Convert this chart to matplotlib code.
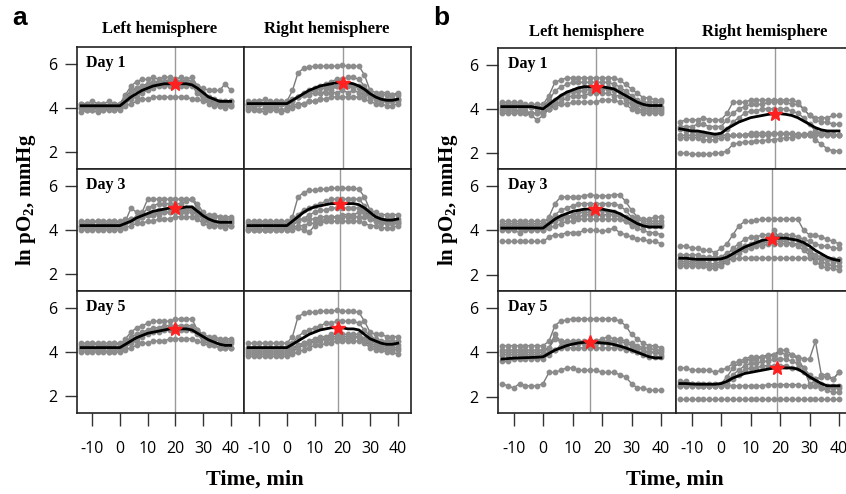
import numpy as np
import matplotlib
matplotlib.use("Agg")
import matplotlib.pyplot as plt

plt.rcParams["axes.unicode_minus"] = False
plt.rcParams["mathtext.fontset"] = "custom"
plt.rcParams["mathtext.rm"] = "Liberation Serif"
plt.rcParams["mathtext.bf"] = "Liberation Serif:bold"

# time points (min), one sample every 2 min
times = [-14, -12, -10, -8, -6, -4, -2, 0, 2, 4, 6, 8, 10, 12,
         14, 16, 18, 20, 22, 24, 26, 28, 30, 32, 34, 36, 38, 40]

# ---------------- panel a ----------------
a_left_day1 = [
    [4.2, 4.2, 4.3, 4.2, 4.2, 4.3, 4.2, 4.2, 4.6, 5.0, 5.2, 5.3, 5.3, 5.4, 5.3, 5.4, 5.4, 5.3, 5.4, 5.3, 5.4, 5.0, 4.7, 4.5, 4.4, 4.3, 4.3, 4.3],
    [4.1, 4.1, 4.0, 4.1, 4.1, 4.1, 4.1, 4.1, 4.4, 4.6, 4.8, 4.9, 5.0, 5.1, 5.2, 5.2, 5.2, 5.3, 5.2, 5.2, 5.1, 4.8, 4.5, 4.3, 4.2, 4.2, 4.2, 4.2],
    [4.0, 3.9, 3.9, 4.0, 3.9, 4.0, 3.9, 4.0, 4.2, 4.4, 4.5, 4.7, 4.8, 4.9, 5.0, 5.0, 5.0, 5.1, 5.0, 5.0, 5.0, 4.7, 4.4, 4.2, 4.1, 4.1, 4.0, 4.1],
    [4.0, 4.0, 4.1, 4.0, 4.0, 4.0, 4.1, 4.0, 4.1, 4.2, 4.3, 4.4, 4.4, 4.5, 4.5, 4.5, 4.5, 4.5, 4.5, 4.5, 4.4, 4.4, 4.3, 4.3, 4.3, 4.2, 4.2, 4.3],
    [3.8, 3.9, 3.9, 3.8, 3.9, 3.9, 3.9, 3.9, 4.3, 4.7, 4.9, 5.0, 5.1, 5.2, 5.2, 5.2, 5.3, 5.2, 5.2, 5.3, 5.2, 5.0, 4.9, 4.8, 4.8, 4.8, 5.1, 4.8],
    [4.2, 4.2, 4.1, 4.2, 4.2, 4.1, 4.2, 4.2, 4.5, 4.8, 4.9, 5.0, 5.1, 5.1, 5.1, 5.1, 5.1, 5.2, 5.1, 5.2, 5.1, 4.9, 4.6, 4.4, 4.2, 4.1, 4.1, 4.1],
]
a_left_day1_mean = [4.1, 4.1, 4.1, 4.1, 4.1, 4.1, 4.1, 4.1, 4.3, 4.5, 4.65, 4.8, 4.9, 5.0, 5.05, 5.1, 5.1, 5.1, 5.1, 5.1, 5.05, 4.9, 4.7, 4.5, 4.4, 4.3, 4.3, 4.3]

a_right_day1 = [
    [4.2, 4.2, 4.3, 4.2, 4.2, 4.3, 4.2, 4.3, 4.8, 5.6, 5.8, 5.85, 5.9, 5.9, 5.9, 5.9, 5.9, 5.95, 5.9, 5.9, 5.9, 5.5, 4.8, 4.7, 4.7, 4.7, 4.6, 4.7],
    [4.1, 4.1, 4.2, 4.1, 4.1, 4.1, 4.2, 4.1, 4.3, 4.5, 4.7, 4.8, 4.9, 5.0, 5.1, 5.2, 5.3, 5.3, 5.4, 5.4, 5.3, 5.0, 4.7, 4.5, 4.4, 4.4, 4.4, 4.4],
    [4.0, 4.0, 3.9, 4.0, 4.0, 4.0, 3.9, 4.0, 4.1, 4.2, 4.2, 4.3, 4.3, 4.4, 4.9, 4.8, 5.0, 4.9, 5.0, 5.0, 4.9, 4.7, 4.5, 4.4, 4.3, 4.3, 4.3, 4.4],
    [4.3, 4.3, 4.3, 4.4, 4.3, 4.3, 4.3, 4.3, 4.4, 4.5, 4.6, 4.6, 4.7, 4.7, 4.7, 4.7, 4.7, 4.8, 4.7, 4.8, 4.7, 4.6, 4.6, 4.6, 4.6, 4.6, 4.6, 4.6],
    [3.9, 3.9, 3.9, 3.8, 3.9, 3.9, 3.8, 3.9, 4.0, 4.1, 4.2, 4.3, 4.3, 4.4, 4.4, 4.5, 4.5, 4.5, 4.5, 4.5, 4.5, 4.4, 4.3, 4.2, 4.2, 4.1, 4.1, 4.2],
    [4.2, 4.1, 4.2, 4.2, 4.1, 4.2, 4.2, 4.1, 4.3, 4.5, 4.6, 4.7, 4.8, 4.9, 4.9, 5.0, 5.0, 5.1, 5.1, 5.0, 5.0, 4.8, 4.5, 4.4, 4.3, 4.3, 4.3, 4.3],
]
a_right_day1_mean = [4.2, 4.2, 4.2, 4.2, 4.2, 4.2, 4.2, 4.2, 4.35, 4.5, 4.65, 4.8, 4.9, 5.0, 5.05, 5.1, 5.15, 5.15, 5.15, 5.1, 5.0, 4.85, 4.65, 4.5, 4.4, 4.35, 4.35, 4.4]

a_left_day3 = [
    [4.3, 4.3, 4.3, 4.4, 4.3, 4.3, 4.4, 4.3, 4.4, 4.5, 4.6, 4.8, 5.4, 5.4, 5.4, 5.4, 5.4, 5.4, 5.4, 5.4, 5.4, 5.2, 4.8, 4.6, 4.6, 4.6, 4.5, 4.5],
    [4.2, 4.2, 4.2, 4.2, 4.2, 4.2, 4.3, 4.2, 4.4, 5.0, 4.8, 4.7, 5.0, 5.1, 5.2, 5.2, 5.2, 5.2, 5.2, 5.3, 5.4, 5.0, 4.7, 4.5, 4.4, 4.4, 4.3, 4.4],
    [4.1, 4.1, 4.1, 4.1, 4.1, 4.1, 4.1, 4.1, 4.3, 4.4, 4.5, 4.6, 4.7, 4.8, 4.9, 4.9, 5.0, 5.0, 5.0, 5.0, 5.0, 4.8, 4.5, 4.4, 4.3, 4.3, 4.3, 4.3],
    [4.0, 4.0, 4.0, 4.0, 4.0, 4.0, 4.0, 4.0, 4.1, 4.2, 4.3, 4.3, 4.4, 4.4, 4.5, 4.5, 4.5, 4.6, 4.6, 4.6, 4.6, 4.5, 4.3, 4.2, 4.2, 4.2, 4.2, 4.2],
    [4.4, 4.4, 4.4, 4.4, 4.4, 4.4, 4.4, 4.4, 4.5, 4.5, 4.6, 4.6, 4.7, 4.7, 4.7, 4.8, 4.8, 4.8, 4.8, 4.8, 4.8, 4.8, 4.7, 4.7, 4.7, 4.6, 4.6, 4.6],
    [4.2, 4.2, 4.1, 4.2, 4.2, 4.2, 4.2, 4.2, 4.3, 4.4, 4.5, 4.6, 4.7, 4.7, 4.8, 4.8, 4.8, 4.9, 4.9, 4.9, 4.9, 4.7, 4.5, 4.3, 4.2, 4.2, 4.1, 4.2],
]
a_left_day3_mean = [4.2, 4.2, 4.2, 4.2, 4.2, 4.2, 4.2, 4.2, 4.3, 4.4, 4.55, 4.65, 4.75, 4.85, 4.9, 4.95, 5.0, 5.0, 5.0, 5.05, 5.05, 4.85, 4.65, 4.5, 4.4, 4.35, 4.35, 4.35]

a_right_day3 = [
    [4.3, 4.3, 4.3, 4.3, 4.3, 4.3, 4.3, 4.3, 4.6, 5.5, 5.7, 5.8, 5.8, 5.85, 5.85, 5.9, 5.9, 5.9, 5.9, 5.9, 5.85, 5.5, 4.9, 4.8, 4.7, 4.7, 4.7, 4.7],
    [4.2, 4.2, 4.2, 4.2, 4.2, 4.2, 4.2, 4.2, 4.4, 4.7, 4.9, 5.0, 5.1, 5.2, 5.3, 5.4, 5.4, 5.4, 5.4, 5.4, 5.4, 5.1, 4.8, 4.6, 4.5, 4.5, 4.5, 4.5],
    [4.1, 4.1, 4.1, 4.0, 4.1, 4.1, 4.1, 4.1, 4.2, 4.4, 4.5, 4.7, 4.8, 4.9, 4.9, 5.0, 5.0, 5.0, 5.0, 5.0, 5.0, 4.8, 4.5, 4.4, 4.3, 4.3, 4.3, 4.3],
    [4.0, 4.0, 4.0, 4.0, 4.0, 4.0, 4.0, 4.0, 4.0, 4.1, 4.0, 3.9, 4.2, 4.4, 4.5, 4.6, 4.6, 4.7, 4.7, 4.7, 4.8, 4.9, 4.6, 4.4, 4.3, 4.3, 4.3, 4.3],
    [4.4, 4.4, 4.4, 4.4, 4.4, 4.4, 4.4, 4.4, 4.4, 4.5, 4.5, 4.5, 4.5, 4.6, 4.6, 4.6, 4.6, 4.6, 4.6, 4.6, 4.6, 4.6, 4.5, 4.5, 4.4, 4.4, 4.4, 4.4],
    [4.0, 4.0, 4.0, 4.0, 4.0, 4.0, 4.1, 4.0, 4.1, 4.2, 4.2, 4.3, 4.3, 4.3, 4.4, 4.4, 4.4, 4.4, 4.4, 4.4, 4.4, 4.3, 4.2, 4.2, 4.1, 4.1, 4.1, 4.2],
]
a_right_day3_mean = [4.2, 4.2, 4.2, 4.2, 4.2, 4.2, 4.2, 4.2, 4.4, 4.6, 4.8, 4.95, 5.05, 5.1, 5.15, 5.2, 5.2, 5.2, 5.2, 5.2, 5.15, 5.0, 4.8, 4.6, 4.5, 4.45, 4.45, 4.5]

a_left_day5 = [
    [4.3, 4.3, 4.4, 4.3, 4.3, 4.3, 4.4, 4.3, 4.6, 4.9, 5.1, 5.2, 5.3, 5.4, 5.4, 5.4, 5.4, 5.5, 5.5, 5.5, 5.5, 5.0, 4.7, 4.6, 4.6, 4.5, 4.5, 4.5],
    [4.2, 4.2, 4.2, 4.2, 4.2, 4.2, 4.2, 4.2, 4.4, 4.7, 4.8, 4.9, 5.0, 5.1, 5.1, 5.2, 5.2, 5.2, 5.2, 5.2, 5.2, 4.9, 4.6, 4.5, 4.4, 4.4, 4.4, 4.4],
    [4.1, 4.1, 4.1, 4.1, 4.1, 4.0, 4.1, 4.1, 4.2, 4.4, 4.5, 4.7, 4.8, 4.9, 4.9, 5.0, 5.0, 5.0, 5.0, 5.0, 5.0, 4.8, 4.5, 4.4, 4.3, 4.2, 4.2, 4.2],
    [4.0, 4.0, 4.0, 4.0, 4.0, 4.0, 4.0, 4.0, 4.1, 4.2, 4.3, 4.4, 4.4, 4.5, 4.5, 4.5, 4.6, 4.6, 4.6, 4.6, 4.6, 4.5, 4.4, 4.3, 4.3, 4.2, 4.2, 4.2],
    [4.4, 4.4, 4.4, 4.4, 4.4, 4.4, 4.4, 4.4, 4.5, 4.6, 4.7, 4.8, 4.9, 5.0, 5.0, 5.1, 5.1, 5.1, 5.1, 5.1, 5.1, 5.0, 4.8, 4.7, 4.7, 4.6, 4.6, 4.6],
]
a_left_day5_mean = [4.2, 4.2, 4.2, 4.2, 4.2, 4.2, 4.2, 4.2, 4.35, 4.5, 4.65, 4.75, 4.85, 4.9, 4.95, 5.0, 5.05, 5.05, 5.05, 5.05, 5.0, 4.85, 4.7, 4.55, 4.45, 4.35, 4.3, 4.3]

a_right_day5 = [
    [4.4, 4.4, 4.4, 4.4, 4.4, 4.4, 4.4, 4.4, 4.7, 5.6, 5.75, 5.8, 5.8, 5.85, 5.85, 5.85, 5.9, 5.85, 5.85, 5.85, 5.8, 5.4, 4.9, 4.8, 4.8, 4.7, 4.7, 4.7],
    [4.2, 4.2, 4.2, 4.2, 4.2, 4.2, 4.2, 4.2, 4.4, 4.7, 4.9, 5.0, 5.1, 5.2, 5.3, 5.3, 5.4, 5.4, 5.4, 5.4, 5.3, 5.0, 4.7, 4.6, 4.5, 4.5, 4.5, 4.5],
    [4.0, 4.0, 4.0, 4.0, 4.0, 4.0, 4.0, 4.0, 4.1, 4.3, 4.4, 4.5, 4.6, 4.7, 4.7, 4.8, 4.8, 4.8, 4.8, 4.8, 4.8, 4.6, 4.4, 4.3, 4.3, 4.2, 4.2, 4.2],
    [3.8, 3.8, 3.8, 3.8, 3.8, 3.8, 3.8, 3.8, 3.9, 4.0, 4.1, 4.2, 4.3, 4.3, 4.4, 4.4, 4.5, 4.5, 4.5, 4.5, 4.5, 4.4, 4.2, 4.1, 4.1, 4.0, 4.0, 3.9],
    [4.1, 4.1, 4.1, 4.1, 4.1, 4.1, 4.1, 4.1, 4.2, 4.3, 4.4, 4.4, 4.5, 4.5, 4.6, 4.6, 4.6, 4.6, 4.6, 4.7, 4.7, 4.6, 4.5, 4.4, 4.4, 4.3, 4.3, 4.3],
    [3.9, 3.9, 3.9, 3.9, 3.9, 3.9, 3.9, 3.9, 4.0, 4.2, 4.3, 4.4, 4.5, 4.6, 4.6, 4.7, 4.7, 4.7, 4.7, 4.7, 4.7, 4.5, 4.3, 4.2, 4.2, 4.1, 4.1, 4.1],
]
a_right_day5_mean = [4.2, 4.2, 4.2, 4.2, 4.2, 4.2, 4.2, 4.2, 4.35, 4.5, 4.65, 4.8, 4.9, 5.0, 5.05, 5.1, 5.1, 5.1, 5.05, 5.05, 5.0, 4.8, 4.6, 4.5, 4.4, 4.35, 4.35, 4.4]

# ---------------- panel b ----------------
b_left_day1 = [
    [4.3, 4.3, 4.3, 4.3, 4.2, 4.2, 4.2, 4.2, 4.6, 5.2, 5.3, 5.4, 5.4, 5.4, 5.4, 5.4, 5.4, 5.4, 5.4, 5.4, 5.3, 5.1, 4.9, 4.7, 4.5, 4.5, 4.4, 4.4],
    [4.2, 4.2, 4.2, 4.2, 4.1, 4.1, 4.1, 4.1, 4.4, 4.8, 5.0, 5.1, 5.2, 5.2, 5.2, 5.2, 5.2, 5.2, 5.2, 5.1, 5.0, 4.8, 4.6, 4.4, 4.3, 4.3, 4.3, 4.3],
    [4.0, 4.0, 4.0, 3.9, 3.8, 3.7, 3.5, 3.7, 4.0, 4.3, 4.5, 4.7, 4.8, 4.9, 5.0, 5.0, 5.0, 5.0, 5.0, 4.9, 4.8, 4.6, 4.4, 4.2, 4.0, 4.0, 4.0, 4.0],
    [3.8, 3.8, 3.8, 3.8, 3.8, 3.8, 3.8, 3.9, 4.0, 4.1, 4.2, 4.2, 4.3, 4.3, 4.3, 4.3, 4.3, 4.4, 4.4, 4.4, 4.3, 4.2, 4.0, 3.9, 3.8, 3.8, 3.8, 3.8],
    [4.1, 4.1, 4.1, 4.1, 4.1, 4.1, 4.0, 4.0, 4.2, 4.4, 4.6, 4.7, 4.8, 4.8, 4.8, 4.9, 4.9, 4.9, 4.9, 4.8, 4.8, 4.6, 4.4, 4.2, 4.1, 4.1, 4.1, 4.1],
    [3.9, 3.9, 3.9, 3.9, 3.9, 3.8, 3.8, 3.8, 4.0, 4.2, 4.3, 4.5, 4.6, 4.6, 4.6, 4.7, 4.7, 4.7, 4.7, 4.6, 4.6, 4.4, 4.2, 4.0, 3.9, 3.9, 3.9, 3.9],
]
b_left_day1_mean = [4.1, 4.1, 4.1, 4.1, 4.1, 4.1, 4.05, 4.0, 4.2, 4.4, 4.6, 4.75, 4.85, 4.95, 5.0, 5.0, 5.0, 5.0, 4.95, 4.9, 4.75, 4.6, 4.45, 4.3, 4.2, 4.15, 4.15, 4.15]

b_right_day1 = [
    [3.4, 3.5, 3.5, 3.5, 3.6, 3.5, 3.5, 3.5, 3.8, 4.3, 4.3, 4.3, 4.4, 4.4, 4.4, 4.4, 4.4, 4.4, 4.4, 4.4, 4.3, 4.0, 3.7, 3.6, 3.6, 3.6, 3.7, 3.7],
    [3.2, 3.2, 3.2, 3.3, 3.3, 3.2, 3.2, 3.2, 3.5, 3.8, 4.0, 4.1, 4.2, 4.2, 4.2, 4.3, 4.3, 4.3, 4.3, 4.2, 4.2, 4.0, 3.7, 3.5, 3.4, 3.4, 3.3, 3.3],
    [3.1, 3.0, 3.0, 2.9, 2.9, 2.8, 2.8, 2.8, 3.1, 3.4, 3.6, 3.8, 3.9, 3.9, 4.0, 4.0, 4.0, 4.0, 4.0, 3.9, 3.8, 3.6, 3.3, 3.0, 2.9, 2.8, 2.8, 2.8],
    [2.8, 2.8, 2.8, 2.8, 2.8, 2.75, 2.75, 2.8, 2.8, 2.8, 2.8, 2.8, 2.8, 2.8, 2.8, 2.8, 2.85, 2.85, 2.85, 2.85, 2.85, 2.85, 2.8, 2.8, 2.8, 2.8, 2.8, 2.8],
    [2.7, 2.7, 2.7, 2.7, 2.6, 2.6, 2.6, 2.7, 2.7, 2.8, 2.8, 2.8, 2.9, 2.9, 2.9, 2.9, 2.9, 2.9, 2.9, 2.9, 2.8, 2.8, 2.8, 2.6, 2.4, 2.2, 2.1, 2.1],
    [2.0, 2.0, 1.95, 1.95, 1.95, 1.95, 2.0, 2.0, 2.1, 2.4, 2.45, 2.5, 2.5, 2.55, 2.55, 2.6, 2.6, 2.65, 2.7, 2.7, 2.75, 2.8, 2.9, 2.9, 2.9, 2.9, 2.85, 2.8],
]
b_right_day1_mean = [3.1, 3.05, 3.0, 3.0, 2.95, 2.9, 2.85, 2.9, 3.1, 3.25, 3.4, 3.5, 3.6, 3.65, 3.7, 3.75, 3.78, 3.78, 3.75, 3.7, 3.6, 3.45, 3.3, 3.15, 3.05, 3.0, 3.0, 3.0]

b_left_day3 = [
    [4.3, 4.3, 4.3, 4.3, 4.3, 4.3, 4.3, 4.3, 4.6, 5.2, 5.5, 5.5, 5.5, 5.5, 5.55, 5.6, 5.55, 5.55, 5.55, 5.6, 5.6, 5.3, 4.9, 4.6, 4.5, 4.5, 4.6, 4.6],
    [4.2, 4.2, 4.2, 4.2, 4.2, 4.2, 4.2, 4.2, 4.4, 4.7, 4.9, 5.0, 5.1, 5.2, 5.2, 5.2, 5.2, 5.2, 5.2, 5.2, 5.1, 4.9, 4.6, 4.5, 4.4, 4.4, 4.4, 4.4],
    [4.0, 4.0, 4.0, 3.9, 4.0, 4.0, 4.0, 4.0, 4.2, 4.4, 4.5, 4.6, 4.7, 4.8, 4.8, 4.8, 4.9, 4.9, 4.8, 4.8, 4.7, 4.6, 4.4, 4.3, 4.2, 4.2, 4.2, 4.2],
    [3.5, 3.5, 3.5, 3.5, 3.5, 3.5, 3.5, 3.5, 3.7, 3.8, 3.8, 3.9, 3.9, 3.9, 4.0, 4.0, 4.0, 3.95, 4.0, 4.1, 3.9, 3.8, 3.7, 3.6, 3.6, 3.5, 3.5, 3.4],
    [4.4, 4.4, 4.4, 4.4, 4.4, 4.4, 4.4, 4.4, 4.5, 4.5, 4.6, 4.6, 4.6, 4.6, 4.7, 4.7, 4.7, 4.7, 4.7, 4.7, 4.6, 4.4, 4.2, 4.1, 4.0, 3.9, 3.9, 3.8],
    [4.1, 4.0, 4.1, 4.1, 4.1, 4.0, 4.1, 4.0, 4.1, 4.2, 4.3, 4.4, 4.4, 4.5, 4.5, 4.5, 4.5, 4.5, 4.5, 4.5, 4.5, 4.4, 4.3, 4.3, 4.3, 4.3, 4.3, 4.3],
]
b_left_day3_mean = [4.1, 4.1, 4.1, 4.1, 4.1, 4.1, 4.1, 4.1, 4.3, 4.5, 4.65, 4.75, 4.85, 4.9, 4.95, 4.95, 4.95, 4.95, 4.9, 4.85, 4.75, 4.6, 4.45, 4.3, 4.2, 4.15, 4.15, 4.15]

b_right_day3 = [
    [3.3, 3.3, 3.2, 3.2, 3.1, 3.1, 3.0, 3.2, 3.4, 3.8, 4.2, 4.4, 4.4, 4.45, 4.5, 4.5, 4.5, 4.5, 4.5, 4.5, 4.5, 4.0, 3.8, 3.8, 3.7, 3.6, 3.5, 3.4],
    [2.6, 2.6, 2.6, 2.6, 2.6, 2.5, 2.5, 2.6, 2.9, 3.2, 3.4, 3.6, 3.7, 3.7, 3.8, 3.8, 3.8, 3.8, 3.8, 3.8, 3.7, 3.6, 3.5, 3.4, 3.3, 3.3, 3.2, 3.2],
    [2.5, 2.5, 2.5, 2.5, 2.5, 2.4, 2.4, 2.5, 2.7, 2.9, 3.1, 3.3, 3.4, 3.5, 3.5, 3.6, 4.0, 3.6, 3.6, 3.6, 3.6, 3.3, 3.0, 2.8, 2.6, 2.5, 2.4, 2.4],
    [2.7, 2.7, 2.7, 2.7, 2.7, 2.7, 2.7, 2.7, 2.7, 2.7, 2.75, 2.75, 2.75, 2.75, 2.75, 2.75, 2.75, 2.75, 2.75, 2.75, 2.75, 2.75, 2.75, 2.75, 2.7, 2.7, 2.7, 2.7],
    [2.4, 2.4, 2.4, 2.4, 2.4, 2.3, 2.3, 2.4, 2.6, 2.8, 3.0, 3.1, 3.2, 3.3, 3.3, 3.4, 3.4, 3.4, 3.4, 3.4, 3.3, 3.1, 2.9, 2.6, 2.4, 2.3, 2.3, 2.2],
    [2.9, 2.9, 2.9, 2.9, 2.8, 2.8, 2.8, 2.8, 3.0, 3.1, 3.2, 3.3, 3.3, 3.4, 3.4, 3.5, 3.5, 3.5, 3.5, 3.4, 3.4, 3.3, 3.1, 2.9, 2.8, 2.7, 2.6, 2.6],
]
b_right_day3_mean = [2.75, 2.75, 2.72, 2.7, 2.7, 2.7, 2.7, 2.72, 2.8, 2.95, 3.1, 3.25, 3.35, 3.45, 3.55, 3.6, 3.65, 3.65, 3.65, 3.6, 3.55, 3.45, 3.3, 3.1, 2.95, 2.8, 2.7, 2.65]

b_left_day5 = [
    [4.3, 4.3, 4.3, 4.3, 4.3, 4.3, 4.3, 4.3, 4.5, 5.2, 5.4, 5.45, 5.5, 5.5, 5.5, 5.5, 5.5, 5.5, 5.5, 5.5, 5.4, 5.2, 4.8, 4.6, 4.4, 4.3, 4.3, 4.2],
    [4.0, 4.0, 4.0, 4.0, 4.0, 4.0, 4.0, 4.0, 4.2, 4.8, 4.5, 4.5, 4.5, 4.5, 4.5, 4.5, 4.5, 4.6, 4.7, 4.6, 4.6, 4.5, 4.4, 4.3, 4.2, 4.2, 4.1, 4.1],
    [4.1, 4.1, 4.1, 4.1, 4.1, 4.1, 4.1, 4.1, 4.2, 4.6, 4.5, 4.4, 4.4, 4.4, 4.4, 4.5, 4.5, 4.5, 4.5, 4.5, 4.5, 4.4, 4.3, 4.2, 4.1, 4.0, 4.0, 3.9],
    [3.9, 3.9, 3.9, 3.9, 3.9, 3.9, 3.9, 3.9, 4.0, 4.1, 4.2, 4.2, 4.2, 4.2, 4.2, 4.2, 4.2, 4.2, 4.2, 4.2, 4.2, 4.1, 4.1, 4.0, 4.0, 4.0, 4.0, 4.0],
    [2.6, 2.5, 2.4, 2.6, 2.5, 2.5, 2.5, 2.6, 3.1, 3.1, 3.2, 3.3, 3.3, 3.2, 3.2, 3.2, 3.2, 3.1, 3.1, 3.1, 3.0, 2.9, 2.6, 2.4, 2.4, 2.3, 2.3, 2.3],
    [3.6, 3.6, 3.7, 3.7, 3.7, 3.7, 3.7, 3.7, 3.9, 4.1, 4.3, 4.4, 4.4, 4.4, 4.4, 4.4, 4.4, 4.4, 4.4, 4.4, 4.3, 4.2, 4.1, 4.0, 3.9, 3.8, 3.8, 3.8],
]
b_left_day5_mean = [3.7, 3.72, 3.74, 3.75, 3.76, 3.77, 3.78, 3.8, 3.95, 4.1, 4.2, 4.3, 4.37, 4.42, 4.45, 4.47, 4.45, 4.42, 4.4, 4.35, 4.28, 4.2, 4.1, 4.0, 3.9, 3.8, 3.75, 3.75]

b_right_day5 = [
    [3.3, 3.3, 3.2, 3.2, 3.2, 3.2, 3.1, 3.2, 3.3, 3.5, 3.6, 3.7, 3.8, 3.8, 3.8, 3.9, 3.9, 4.1, 4.1, 3.9, 3.8, 3.7, 3.7, 4.5, 3.0, 3.0, 2.8, 3.1],
    [2.7, 2.7, 2.6, 2.6, 2.6, 2.6, 2.6, 2.6, 2.9, 3.3, 3.5, 3.6, 3.7, 3.7, 3.8, 3.8, 3.9, 4.0, 3.9, 3.9, 3.7, 3.3, 2.6, 2.7, 2.4, 2.3, 2.2, 2.2],
    [2.5, 2.5, 2.5, 2.5, 2.5, 2.5, 2.5, 2.5, 2.6, 3.0, 3.2, 3.4, 3.5, 3.5, 3.6, 3.6, 3.7, 3.7, 3.7, 3.6, 3.5, 3.3, 3.0, 2.8, 2.6, 2.5, 2.5, 2.5],
    [2.5, 2.5, 2.5, 2.5, 2.5, 2.5, 2.5, 2.5, 2.5, 2.5, 2.5, 2.5, 2.5, 2.5, 2.5, 2.55, 2.55, 2.55, 2.55, 2.55, 2.55, 2.5, 2.5, 2.5, 2.4, 2.4, 2.4, 2.4],
    [1.9, 1.9, 1.9, 1.9, 1.9, 1.9, 1.9, 1.9, 1.9, 1.9, 1.9, 1.9, 1.9, 1.9, 1.9, 1.9, 1.9, 1.9, 1.9, 1.9, 1.9, 1.9, 1.9, 1.9, 1.9, 1.9, 1.9, 1.9],
    [2.6, 2.6, 2.6, 2.6, 2.5, 2.5, 2.5, 2.5, 2.6, 2.8, 3.0, 3.2, 3.3, 3.3, 3.4, 3.4, 3.4, 3.4, 3.4, 3.3, 3.3, 3.1, 2.9, 2.8, 2.9, 2.9, 2.8, 3.1],
]
b_right_day5_mean = [2.6, 2.6, 2.58, 2.57, 2.57, 2.57, 2.57, 2.6, 2.7, 2.85, 2.95, 3.05, 3.1, 3.15, 3.2, 3.25, 3.3, 3.3, 3.3, 3.3, 3.25, 3.1, 2.9, 2.75, 2.6, 2.5, 2.5, 2.5]

# time of the marked peak (vertical line + star) per panel, rows = day 1/3/5
a_peak_left = [20, 20, 20]
a_peak_right = [20.3, 19, 18.6]
b_peak_left = [18, 17.6, 16]
b_peak_right = [18.3, 17.3, 19]

day_labels = ["Day 1", "Day 3", "Day 5"]
col_titles = ["Left hemisphere", "Right hemisphere"]

a_left = [a_left_day1, a_left_day3, a_left_day5]
a_left_mean = [a_left_day1_mean, a_left_day3_mean, a_left_day5_mean]
a_right = [a_right_day1, a_right_day3, a_right_day5]
a_right_mean = [a_right_day1_mean, a_right_day3_mean, a_right_day5_mean]
b_left = [b_left_day1, b_left_day3, b_left_day5]
b_left_mean = [b_left_day1_mean, b_left_day3_mean, b_left_day5_mean]
b_right = [b_right_day1, b_right_day3, b_right_day5]
b_right_mean = [b_right_day1_mean, b_right_day3_mean, b_right_day5_mean]

W, H = 846, 494
fig = plt.figure(figsize=(W / 100, H / 100), dpi=100)

SERIF = "Liberation Serif"
TICKFONT = "Open Sans"


def px_axes(x0, ytop, w, h):
    return fig.add_axes([x0 / W, 1 - (ytop + h) / H, w / W, h / H])


def draw_panel(ax, lines, mean, peak, xlim, ylim, row, col):
    ax.axvline(peak, color="#9a9a9a", lw=1.0, zorder=1)
    for ys in lines:
        ax.plot(times, ys, color="#7a7a7a", lw=1.0, marker="o", ms=3.2,
                mfc="#8c8c8c", mec="#8c8c8c", zorder=2)
    ax.plot(times, mean, color="black", lw=2.0, zorder=3)
    ax.plot([peak], [np.interp(peak, times, mean)], marker="*", ms=10,
            color="#ff2020", mec="#ff2020", zorder=4)
    ax.set_xlim(*xlim)
    ax.set_ylim(*ylim)
    for sp in ax.spines.values():
        sp.set_color("#222222")
        sp.set_linewidth(1.2)
    ax.tick_params(direction="out", length=9, width=1.0, color="#333333",
                   labelsize=11.5, pad=5)
    if col == 0:
        ax.set_yticks([2, 4, 6])
        for lab in ax.get_yticklabels():
            lab.set_fontfamily(TICKFONT)
        ax.text(0.055, 0.87, day_labels[row], transform=ax.transAxes,
                fontfamily=SERIF, fontweight="bold", fontsize=11.5,
                va="center", ha="left")
    else:
        ax.set_yticks([])
    if row == 2:
        ax.set_xticks([-10, 0, 10, 20, 30, 40])
        ax.tick_params(axis="x", pad=11)
        for lab in ax.get_xticklabels():
            lab.set_fontfamily(TICKFONT)
    else:
        ax.set_xticks([])


def draw_figure(x0, col_w, row_tops, row_hs, xlim, ylim, left, left_mean,
                right, right_mean, peak_left, peak_right):
    for r in range(3):
        axl = px_axes(x0, row_tops[r], col_w, row_hs[r])
        draw_panel(axl, left[r], left_mean[r], peak_left[r], xlim, ylim, r, 0)
        axr = px_axes(x0 + col_w, row_tops[r], col_w, row_hs[r])
        draw_panel(axr, right[r], right_mean[r], peak_right[r], xlim, ylim, r, 1)


draw_figure(77, 167, [47, 169, 291], [122, 122, 122], (-15.5, 44.8), (1.23, 6.77),
            a_left, a_left_mean, a_right, a_right_mean, a_peak_left, a_peak_right)
draw_figure(498, 178, [48, 169, 291], [121, 122, 122], (-15.3, 45.1), (1.28, 6.75),
            b_left, b_left_mean, b_right, b_right_mean, b_peak_left, b_peak_right)

# column titles
for cx, cy, t in [(160, 29, col_titles[0]), (327, 29, col_titles[1]),
                  (587, 32, col_titles[0]), (765, 32, col_titles[1])]:
    fig.text(cx / W, 1 - cy / H, t, fontfamily=SERIF, fontweight="bold",
             fontsize=12, ha="center", va="center")

# panel letters
fig.text(12 / W, 1 - 18 / H, "a", fontsize=19, fontweight="bold",
         fontfamily="Liberation Sans", ha="left", va="center")
fig.text(433 / W, 1 - 18 / H, "b", fontsize=19, fontweight="bold",
         fontfamily="Liberation Sans", ha="left", va="center")

# axis labels
for lx in (26, 448):
    fig.text(lx / W, 1 - 200 / H, r"ln pO$_\mathbf{2}$, mmHg", rotation=90,
             fontfamily=SERIF, fontweight="bold", fontsize=15,
             ha="center", va="center")
for tx in (255, 675):
    fig.text(tx / W, 1 - 480 / H, "Time, min", fontfamily=SERIF,
             fontweight="bold", fontsize=16, ha="center", va="center")

fig.savefig("out.png", dpi=100)
